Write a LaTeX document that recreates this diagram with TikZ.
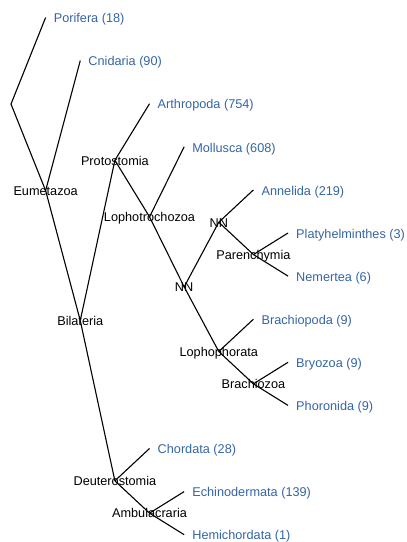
\documentclass[tikz,border=0pt]{standalone}
\usepackage{fontspec}
\setmainfont{Liberation Sans}
\definecolor{tipblue}{RGB}{52,101,164}
\begin{document}
\begin{tikzpicture}[x=1pt,y=-1pt,
  edge/.style={line width=1.1pt, black},
  tiplab/.style={anchor=base west, text=tipblue, inner sep=0pt, xshift=8pt, yshift=-5.2pt, font=\fontsize{12.7}{15}\selectfont},
  nodelab/.style={anchor=base, inner sep=0pt, text=black, yshift=-4.8pt, font=\fontsize{12.7}{15}\selectfont}]
\useasboundingbox (0,0) rectangle (407,542);
% tree nodes
\coordinate (root) at (11,104.04);
\coordinate (porifera) at (45.63,17.5);
\coordinate (eumetazoa) at (45.63,190.59);
\coordinate (cnidaria) at (80.26,60.6);
\coordinate (bilateria) at (80.26,320.54);
\coordinate (protostomia) at (114.89,160.27);
\coordinate (arthropoda) at (149.52,103.7);
\coordinate (lophotrochozoa) at (149.52,216.84);
\coordinate (mollusca) at (184.15,146.8);
\coordinate (nnlow) at (184.15,286.88);
\coordinate (nnup) at (218.78,222.23);
\coordinate (annelida) at (253.41,189.9);
\coordinate (parenchymia) at (253.41,254.55);
\coordinate (platy) at (288.04,233);
\coordinate (nemertea) at (288.04,276.1);
\coordinate (lophophorata) at (218.78,351.53);
\coordinate (brachiopoda) at (253.41,319.2);
\coordinate (brachiozoa) at (253.41,383.85);
\coordinate (bryozoa) at (288.04,362.3);
\coordinate (phoronida) at (288.04,405.4);
\coordinate (deuterostomia) at (114.89,480.83);
\coordinate (chordata) at (149.52,448.5);
\coordinate (ambulacraria) at (149.52,513.15);
\coordinate (echino) at (184.15,491.6);
\coordinate (hemi) at (184.15,534.7);
% edges
\draw[edge] (root) -- (porifera);
\draw[edge] (root) -- (eumetazoa);
\draw[edge] (eumetazoa) -- (cnidaria);
\draw[edge] (eumetazoa) -- (bilateria);
\draw[edge] (bilateria) -- (protostomia);
\draw[edge] (bilateria) -- (deuterostomia);
\draw[edge] (protostomia) -- (arthropoda);
\draw[edge] (protostomia) -- (lophotrochozoa);
\draw[edge] (lophotrochozoa) -- (mollusca);
\draw[edge] (lophotrochozoa) -- (nnlow);
\draw[edge] (nnlow) -- (nnup);
\draw[edge] (nnlow) -- (lophophorata);
\draw[edge] (nnup) -- (annelida);
\draw[edge] (nnup) -- (parenchymia);
\draw[edge] (parenchymia) -- (platy);
\draw[edge] (parenchymia) -- (nemertea);
\draw[edge] (lophophorata) -- (brachiopoda);
\draw[edge] (lophophorata) -- (brachiozoa);
\draw[edge] (brachiozoa) -- (bryozoa);
\draw[edge] (brachiozoa) -- (phoronida);
\draw[edge] (deuterostomia) -- (chordata);
\draw[edge] (deuterostomia) -- (ambulacraria);
\draw[edge] (ambulacraria) -- (echino);
\draw[edge] (ambulacraria) -- (hemi);
% tip labels
\node[tiplab] (lporifera) at (porifera) {Porifera (18)};
\node[tiplab] (lcnidaria) at (cnidaria) {Cnidaria (90)};
\node[tiplab] (larthropoda) at (arthropoda) {Arthropoda (754)};
\node[tiplab] (lmollusca) at (mollusca) {Mollusca (608)};
\node[tiplab] (lannelida) at (annelida) {Annelida (219)};
\node[tiplab] (lplaty) at (platy) {Platyhelminthes (3)};
\node[tiplab] (lnemertea) at (nemertea) {Nemertea (6)};
\node[tiplab] (lbrachiopoda) at (brachiopoda) {Brachiopoda (9)};
\node[tiplab] (lbryozoa) at (bryozoa) {Bryozoa (9)};
\node[tiplab] (lphoronida) at (phoronida) {Phoronida (9)};
\node[tiplab] (lchordata) at (chordata) {Chordata (28)};
\node[tiplab] (lechino) at (echino) {Echinodermata (139)};
\node[tiplab] (lhemi) at (hemi) {Hemichordata (1)};
% internal node labels
\node[nodelab] (leumetazoa) at (eumetazoa) {Eumetazoa};
\node[nodelab] (lbilateria) at (bilateria) {Bilateria};
\node[nodelab] (lprotostomia) at (protostomia) {Protostomia};
\node[nodelab] (llophotrochozoa) at (lophotrochozoa) {Lophotrochozoa};
\node[nodelab] (lnnlow) at (nnlow) {NN};
\node[nodelab] (lnnup) at (nnup) {NN};
\node[nodelab] (lparenchymia) at (parenchymia) {Parenchymia};
\node[nodelab] (llophophorata) at (lophophorata) {Lophophorata};
\node[nodelab] (lbrachiozoa) at (brachiozoa) {Brachiozoa};
\node[nodelab] (ldeuterostomia) at (deuterostomia) {Deuterostomia};
\node[nodelab] (lambulacraria) at (ambulacraria) {Ambulacraria};
\end{tikzpicture}
\end{document}
